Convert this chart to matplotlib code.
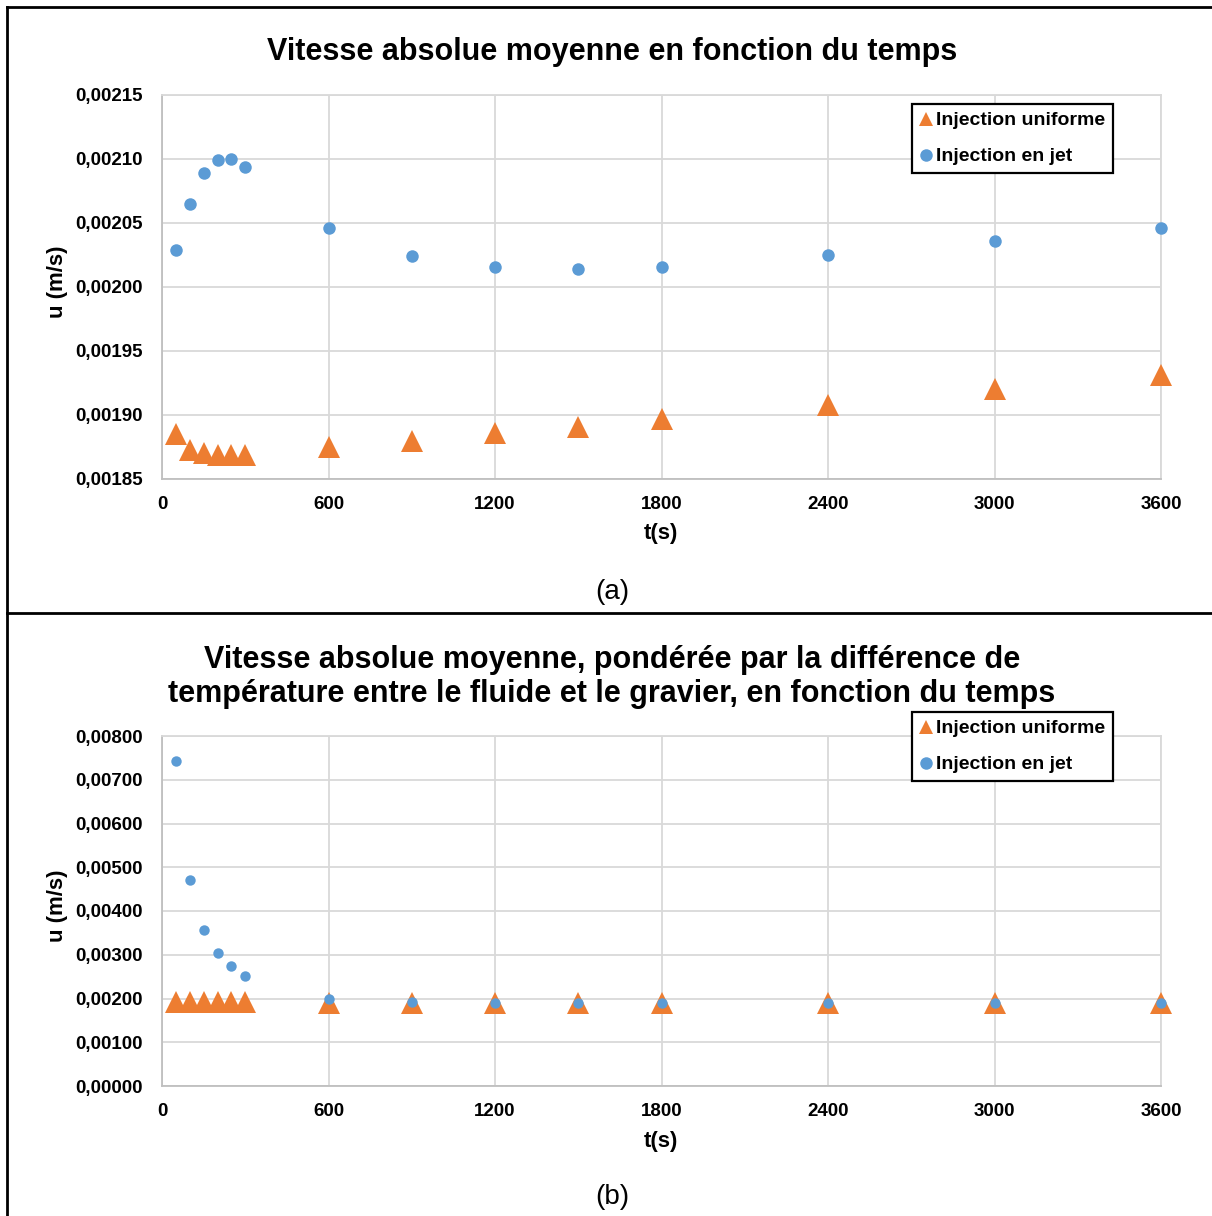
import matplotlib
matplotlib.use("Agg")
import matplotlib.pyplot as plt
from matplotlib.lines import Line2D
from matplotlib.ticker import FuncFormatter

plt.rcParams['font.family'] = ['Liberation Sans', 'DejaVu Sans']

# ---- data ----
t = [50, 100, 150, 200, 250, 300, 600, 900, 1200, 1500, 1800, 2400, 3000, 3600]

# (a) mean absolute velocity
a_uniforme = [0.001885, 0.001873, 0.001870, 0.001869, 0.001869, 0.001869,
              0.001875, 0.001880, 0.001886, 0.001891, 0.001897, 0.001908,
              0.001920, 0.001931]
a_jet = [0.002029, 0.002065, 0.002089, 0.002099, 0.002100, 0.002094,
         0.002046, 0.002024, 0.002016, 0.002014, 0.002016, 0.002025,
         0.002036, 0.002046]

# (b) weighted mean absolute velocity
b_uniforme = [0.00192, 0.00191, 0.00191, 0.00191, 0.00191, 0.00191,
              0.00190, 0.00190, 0.00190, 0.00190, 0.00190, 0.00190,
              0.00190, 0.00190]
b_jet = [0.00743, 0.00471, 0.00357, 0.00304, 0.00274, 0.00252,
         0.00199, 0.00192, 0.00190, 0.00189, 0.00189, 0.00189,
         0.00189, 0.00190]

x_ticks = [0, 600, 1200, 1800, 2400, 3000, 3600]
a_yticks = [0.00185, 0.00190, 0.00195, 0.00200, 0.00205, 0.00210, 0.00215]
b_yticks = [0.000, 0.001, 0.002, 0.003, 0.004, 0.005, 0.006, 0.007, 0.008]

title_a = "Vitesse absolue moyenne en fonction du temps"
title_b = ("Vitesse absolue moyenne, pondérée par la différence de\n"
           "température entre le fluide et le gravier, en fonction du temps")
labels = ["Injection uniforme", "Injection en jet"]

ORANGE = "#ED7D31"
BLUE = "#5B9BD5"
GRID = "#D9D9D9"

W, H = 1212, 1216
fig = plt.figure(figsize=(W / 100, H / 100), dpi=100)


def fx(px):
    return px / W


def fy(py):
    return 1 - py / H


fmt = FuncFormatter(lambda v, p: f"{v:.5f}".replace(".", ","))


def make_axes(top, bottom, yticks, uni, jet, tri_ms, circ_ms):
    ax = fig.add_axes([fx(162), fy(bottom), fx(1161) - fx(162), fy(top) - fy(bottom)])
    ax.plot(t, uni, linestyle='none', marker='^', markersize=tri_ms,
            color=ORANGE, markeredgewidth=0, zorder=3, clip_on=False)
    ax.plot(t, jet, linestyle='none', marker='o', markersize=circ_ms,
            color=BLUE, markeredgewidth=0, zorder=4, clip_on=False)
    ax.set_xlim(0, 3600)
    ax.set_ylim(yticks[0], yticks[-1])
    ax.set_xticks(x_ticks)
    ax.set_yticks(yticks)
    ax.yaxis.set_major_formatter(fmt)
    ax.grid(True, color=GRID, linewidth=1.3)
    ax.set_axisbelow(True)
    for s in ax.spines.values():
        s.set_color(GRID)
        s.set_linewidth(1.3)
    ax.spines['bottom'].set_color("#BFBFBF")
    ax.spines['left'].set_color("#BFBFBF")
    ax.tick_params(length=0, labelsize=13.5, colors='black')
    ax.tick_params(axis='y', pad=14)
    ax.tick_params(axis='x', pad=12)
    for lab in ax.get_xticklabels() + ax.get_yticklabels():
        lab.set_fontweight('bold')
    return ax


ax1 = make_axes(95, 479, a_yticks, a_uniforme, a_jet, 16, 9)
ax2 = make_axes(736, 1086, b_yticks, b_uniforme, b_jet, 16, 7.5)

# titles
fig.text(fx(612), fy(52), title_a, ha='center', va='center',
         fontsize=22, fontweight='bold')
fig.text(fx(612), fy(677), title_b, ha='center', va='center',
         fontsize=22, fontweight='bold', linespacing=1.2)

# axis labels
for yc in (282, 906):
    fig.text(fx(58), fy(yc), "u (m/s)", rotation=90, ha='center', va='center',
             fontsize=16, fontweight='bold')
for yc in (534, 1141):
    fig.text(fx(661), fy(yc), "t(s)", ha='center', va='center',
             fontsize=16, fontweight='bold')

# panel labels
fig.text(fx(612), fy(592), "(a)", ha='center', va='center', fontsize=20)
fig.text(fx(612), fy(1197), "(b)", ha='center', va='center', fontsize=20)

# legends
handles = [Line2D([], [], linestyle='none', marker='^', markersize=10,
                  color=ORANGE, markeredgewidth=0),
           Line2D([], [], linestyle='none', marker='o', markersize=9,
                  color=BLUE, markeredgewidth=0)]
for ytop in (104, 712):
    leg = fig.legend(handles, labels, loc='upper left',
                     bbox_to_anchor=(fx(912), fy(ytop)),
                     bbox_transform=fig.transFigure, borderaxespad=0,
                     fancybox=False, framealpha=1, edgecolor='black',
                     prop={'size': 14, 'weight': 'bold'},
                     handlelength=0.6, handletextpad=0.25,
                     borderpad=0.4, labelspacing=0.95)
    leg.get_frame().set_linewidth(1.6)

# table borders
fig.add_artist(Line2D([fx(7), 1], [fy(7), fy(7)], color='black', linewidth=2,
                      transform=fig.transFigure))
fig.add_artist(Line2D([fx(7), 1], [fy(613), fy(613)], color='black', linewidth=2,
                      transform=fig.transFigure))
fig.add_artist(Line2D([fx(7), fx(7)], [fy(7), 0], color='black', linewidth=2,
                      transform=fig.transFigure))

fig.savefig("out.png", dpi=100, facecolor='white')
